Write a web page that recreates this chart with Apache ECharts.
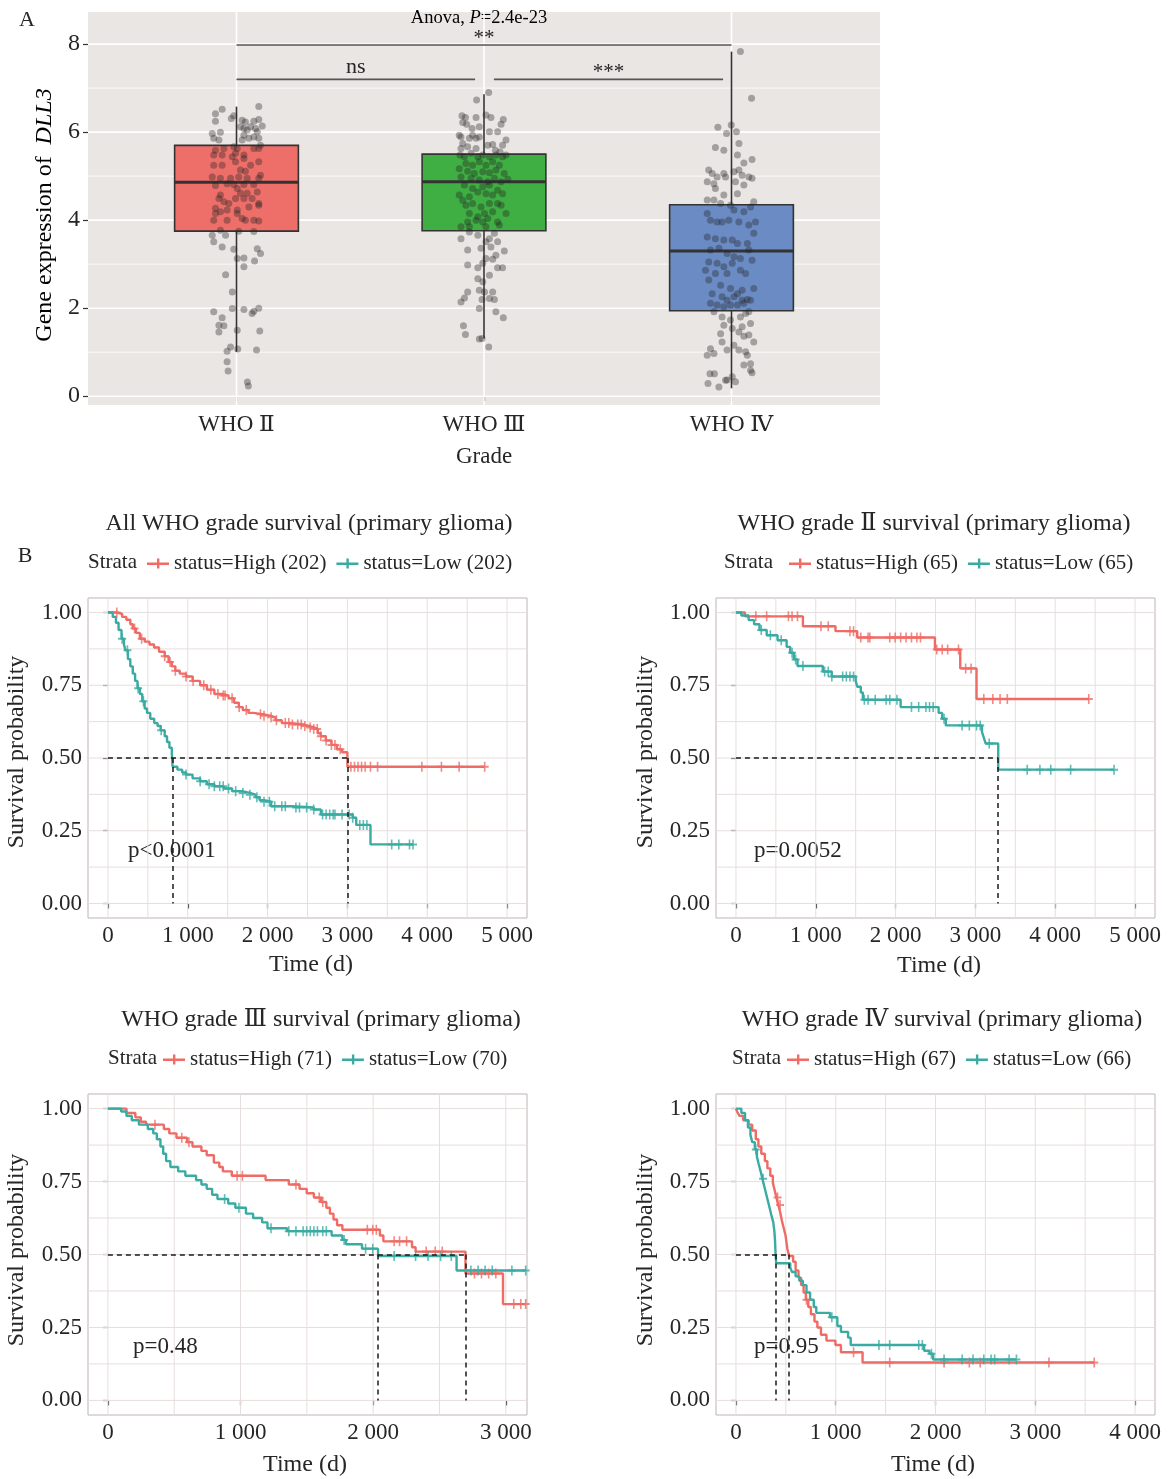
<!DOCTYPE html>
<html>
<head>
<meta charset="utf-8">
<script src="https://cdn.jsdelivr.net/npm/echarts@6/dist/echarts.min.js"></script>
<style>
html, body { margin: 0; padding: 0; background: #fff; }
#chart { width: 1168px; height: 1479px; }
</style>
</head>
<body>
<div id="chart"></div>
<script>
const FONT = "'Liberation Serif','DejaVu Serif','Noto Sans CJK SC',serif";
const TXT = '#262626';
const RED = '#EF6B65', TEAL = '#3AABA2';

// ---------- A: DLL3 expression by grade ----------
const grades = ['WHO Ⅱ', 'WHO Ⅲ', 'WHO Ⅳ'];
// [position, lower whisker, Q1, median, Q3, upper whisker]
const boxStats = [
  [1, 1.01, 3.75, 4.86, 5.70, 6.58],
  [2, 1.31, 3.76, 4.87, 5.50, 6.86],
  [3, 0.18, 1.94, 3.30, 4.35, 7.83]
];
const boxColors = ['#EE6F6A', '#3FAE43', '#6B8BC5'];
// jittered samples: [x offset, expression]
const ptsII = [[-0.058,6.52],[-0.085,6.42],[-0.085,6.25],[-0.011,6.37],[-0.021,6.31],[0.090,6.58],[0.023,6.27],[0.036,6.23],[0.070,6.25],[0.090,6.29],[0.104,6.14],[0.016,6.12],[0.030,6.08],[0.043,6.05],[0.057,6.12],[0.077,6.08],[0.084,6.01],[0.070,5.89],[0.090,5.86],[-0.098,5.97],[-0.065,6.00],[-0.092,5.86],[-0.071,5.82],[0.030,5.93],[0.050,5.86],[0.023,5.82],[0.097,5.70],[-0.011,5.67],[0.003,5.63],[-0.051,5.63],[-0.085,5.59],[-0.092,5.48],[-0.058,5.48],[-0.004,5.52],[0.030,5.48],[0.070,5.63],[0.090,5.63],[-0.017,5.44],[0.030,5.40],[-0.092,5.25],[-0.058,5.25],[-0.004,5.33],[0.036,5.11],[0.009,4.98],[0.016,5.14],[0.057,5.25],[0.090,5.33],[0.097,5.02],[-0.098,4.98],[-0.065,4.95],[-0.024,4.95],[0.043,4.95],[0.090,4.95],[-0.085,4.79],[-0.038,4.83],[-0.011,4.81],[0.030,4.81],[0.070,4.81],[0.003,4.72],[-0.065,4.57],[0.016,4.61],[0.043,4.61],[0.084,4.64],[-0.071,4.49],[-0.051,4.42],[-0.031,4.38],[-0.004,4.49],[0.030,4.49],[0.063,4.49],[0.090,4.38],[-0.085,4.27],[-0.038,4.23],[0.003,4.23],[0.050,4.30],[0.090,4.34],[-0.085,4.15],[-0.065,4.19],[0.003,4.15],[0.023,4.04],[0.036,4.00],[-0.092,4.00],[-0.038,4.00],[0.070,4.00],[0.090,3.98],[-0.065,3.77],[-0.098,3.66],[-0.044,3.66],[0.009,3.75],[0.070,3.74],[-0.092,3.51],[-0.058,3.39],[-0.011,3.34],[0.084,3.35],[0.097,3.24],[0.003,3.13],[0.030,3.14],[0.073,3.07],[0.030,2.94],[-0.044,2.76],[-0.017,2.37],[-0.092,1.92],[-0.017,1.99],[0.030,1.97],[0.063,1.88],[0.070,1.93],[0.090,2.00],[-0.058,1.78],[-0.071,1.61],[-0.051,1.60],[-0.071,1.46],[0.003,1.50],[0.094,1.48],[-0.024,1.12],[-0.038,1.02],[0.005,1.07],[0.081,1.05],[-0.038,0.78],[-0.034,0.57],[0.044,0.32],[0.048,0.23]];
const ptsIII = [[0.019,6.90],[-0.030,6.73],[-0.089,6.37],[-0.075,6.33],[-0.032,6.33],[-0.086,6.22],[0.008,6.39],[0.028,6.33],[0.078,6.29],[0.069,6.18],[-0.070,6.18],[-0.048,6.08],[-0.019,6.12],[-0.100,5.93],[-0.093,5.89],[-0.046,5.93],[-0.032,5.86],[-0.059,5.86],[-0.019,5.89],[0.022,6.01],[0.055,6.01],[0.089,5.82],[0.075,5.70],[0.035,5.72],[-0.086,5.74],[-0.066,5.67],[-0.093,5.63],[-0.032,5.63],[0.015,5.70],[0.046,5.59],[0.065,5.55],[0.089,5.48],[-0.097,5.48],[-0.079,5.44],[-0.052,5.52],[-0.025,5.44],[-0.005,5.48],[0.022,5.44],[0.048,5.48],[0.075,5.44],[-0.073,5.29],[-0.046,5.25],[-0.019,5.33],[0.008,5.25],[0.035,5.33],[0.062,5.25],[-0.100,5.17],[-0.066,5.11],[-0.039,5.06],[-0.005,5.10],[0.022,5.08],[0.048,5.14],[0.082,5.06],[-0.093,4.98],[-0.052,4.95],[-0.019,4.91],[0.015,4.87],[0.042,4.95],[0.069,4.87],[0.096,4.93],[-0.100,4.57],[-0.086,4.45],[-0.059,4.53],[-0.025,4.64],[0.008,4.60],[0.035,4.57],[0.055,4.68],[0.075,4.60],[-0.079,4.80],[-0.005,4.76],[0.022,4.80],[-0.046,4.72],[-0.073,4.34],[-0.046,4.38],[-0.012,4.30],[0.022,4.38],[0.055,4.38],[0.069,4.34],[-0.059,4.15],[-0.025,4.08],[0.002,4.15],[0.035,4.19],[0.089,4.15],[-0.066,3.96],[-0.032,4.00],[-0.005,3.96],[0.015,4.04],[0.055,3.96],[-0.093,3.85],[-0.059,3.85],[0.008,3.85],[0.062,3.89],[0.042,3.70],[-0.059,3.73],[-0.025,3.66],[0.022,3.58],[-0.093,3.58],[0.008,3.51],[0.055,3.51],[-0.012,3.36],[0.028,3.39],[-0.066,3.32],[0.082,3.30],[0.048,3.20],[0.008,3.13],[0.035,3.11],[-0.066,2.98],[-0.025,2.92],[-0.005,3.02],[0.055,2.92],[0.075,2.92],[0.022,2.75],[-0.025,2.67],[-0.005,2.60],[-0.066,2.37],[-0.019,2.41],[0.002,2.37],[0.035,2.37],[0.042,2.20],[-0.079,2.23],[-0.093,2.14],[-0.008,2.20],[0.022,2.22],[-0.019,1.99],[0.048,1.92],[0.078,1.78],[-0.083,1.60],[-0.075,1.40],[-0.019,1.30],[-0.008,1.31],[0.019,1.12]];
const ptsIV = [[0.036,7.83],[0.081,6.77],[-0.055,6.11],[-0.001,6.16],[-0.020,5.97],[0.020,6.01],[-0.065,5.65],[-0.031,5.59],[0.030,5.74],[0.024,5.48],[0.083,5.38],[0.050,5.30],[-0.092,5.14],[-0.078,5.06],[-0.058,4.98],[-0.031,5.06],[-0.024,4.98],[0.010,5.10],[0.030,5.14],[0.043,5.02],[0.070,4.98],[0.083,4.95],[-0.098,4.87],[-0.071,4.83],[0.016,4.87],[0.050,4.80],[-0.065,4.72],[-0.031,4.57],[0.024,4.60],[0.090,4.42],[-0.098,4.46],[-0.071,4.46],[-0.044,4.38],[-0.004,4.34],[0.010,4.23],[0.050,4.19],[0.077,4.30],[-0.098,4.15],[-0.085,4.00],[-0.058,3.96],[-0.038,3.96],[-0.011,4.00],[0.030,3.96],[0.070,3.89],[0.097,3.96],[-0.098,3.62],[-0.065,3.58],[-0.031,3.55],[0.003,3.55],[0.024,3.47],[0.064,3.47],[0.090,3.70],[-0.085,3.32],[-0.051,3.36],[-0.018,3.24],[0.010,3.17],[0.036,3.13],[0.070,3.32],[-0.092,3.05],[-0.058,3.02],[-0.031,2.94],[0.003,3.02],[0.036,2.86],[0.083,3.09],[-0.105,2.86],[-0.065,2.79],[-0.018,2.79],[0.057,2.79],[-0.092,2.64],[-0.044,2.52],[-0.004,2.45],[0.024,2.33],[0.043,2.41],[0.090,2.45],[-0.078,2.33],[-0.038,2.26],[-0.018,2.18],[0.010,2.26],[0.043,2.18],[0.064,2.20],[0.077,2.18],[-0.085,2.11],[-0.058,2.07],[-0.031,2.03],[-0.004,2.07],[0.024,2.07],[0.050,2.11],[0.070,1.92],[-0.071,1.92],[-0.038,1.80],[-0.004,1.73],[0.036,1.80],[0.057,1.88],[-0.031,1.61],[0.003,1.54],[0.043,1.58],[0.077,1.65],[-0.044,1.42],[0.030,1.46],[0.050,1.36],[0.070,1.39],[0.090,1.23],[-0.038,1.23],[0.010,1.16],[-0.085,1.08],[-0.071,0.97],[-0.098,0.93],[-0.018,1.05],[0.030,1.05],[0.057,1.01],[0.064,0.93],[0.077,0.74],[0.050,0.71],[0.077,0.59],[0.083,0.53],[-0.087,0.51],[-0.069,0.51],[-0.095,0.29],[-0.051,0.21],[-0.024,0.36],[0.003,0.44],[0.016,0.33],[-0.018,0.37]];
// comparison brackets: [from, to, height]
const sigBars = [[1, 3, 7.98], [1, 1.964, 7.2], [2.04, 2.966, 7.2]];
const sigLabels = ['**', 'ns', '***'];
const yTicksA = [0, 2, 4, 6, 8];
const yMinorA = [1, 3, 5, 7];

// ---------- B: Kaplan-Meier curves, [time (d), survival] ----------
const allHigh = [[0,1],[120,0.995],[178,0.985],[230,0.975],[280,0.96],[311,0.945],[350,0.93],[400,0.91],[460,0.9],[520,0.89],[578,0.88],[640,0.865],[711,0.85],[760,0.83],[800,0.815],[844,0.80],[900,0.79],[978,0.78],[1060,0.765],[1155,0.75],[1240,0.735],[1333,0.72],[1420,0.715],[1511,0.705],[1580,0.69],[1640,0.675],[1689,0.665],[1760,0.655],[1822,0.65],[1950,0.645],[2044,0.64],[2100,0.63],[2178,0.62],[2300,0.615],[2444,0.61],[2520,0.605],[2578,0.60],[2630,0.585],[2667,0.575],[2730,0.56],[2800,0.545],[2870,0.53],[2933,0.52],[3000,0.47]];
const allHighCens = [111,333,422,711,778,844,978,1067,1200,1289,1378,1444,1467,1555,1644,1733,1911,1955,2044,2111,2222,2266,2311,2378,2422,2466,2533,2578,2622,2667,2733,2800,2844,2911,3044,3089,3133,3178,3222,3289,3378,3933,4178,4400,4720];
const allLow = [[0,1],[60,0.985],[100,0.965],[133,0.94],[170,0.91],[200,0.89],[222,0.87],[250,0.84],[280,0.815],[311,0.79],[340,0.765],[370,0.74],[400,0.72],[430,0.695],[460,0.67],[489,0.655],[530,0.635],[580,0.62],[622,0.61],[660,0.595],[711,0.575],[740,0.555],[770,0.535],[800,0.515],[810,0.47],[870,0.46],[930,0.45],[978,0.443],[1060,0.43],[1155,0.42],[1240,0.41],[1333,0.403],[1450,0.395],[1555,0.386],[1680,0.38],[1778,0.374],[1850,0.365],[1900,0.355],[1955,0.35],[2044,0.334],[2300,0.33],[2578,0.323],[2667,0.306],[3067,0.295],[3111,0.27],[3289,0.203]];
const allLowCens = [178,244,378,444,667,978,1155,1267,1333,1400,1444,1511,1600,1689,1778,1866,1955,2022,2089,2178,2222,2355,2400,2489,2578,2689,2733,2778,2822,2844,2933,3022,3067,3155,3200,3244,3555,3644,3778,3822];
const allMedians = [808, 3000];

const g2High = [[0,1],[113,0.987],[839,0.953],[1247,0.936],[1519,0.914],[2493,0.873],[2810,0.808],[3014,0.703]];
const g2HighCens = [249,385,657,703,771,1065,1156,1428,1473,1564,1655,1677,1927,1995,2063,2131,2199,2267,2312,2516,2584,2652,2788,2878,2946,3105,3218,3309,3400,4420];
const g2Low = [[0,1],[68,0.99],[159,0.974],[227,0.96],[295,0.94],[385,0.922],[521,0.905],[635,0.882],[680,0.862],[725,0.839],[771,0.816],[1088,0.797],[1200,0.78],[1500,0.765],[1519,0.745],[1564,0.725],[1590,0.70],[2063,0.675],[2539,0.655],[2584,0.635],[2629,0.612],[3082,0.59],[3105,0.57],[3128,0.55],[3286,0.46]];
const g2LowCens = [317,431,567,703,748,839,1111,1156,1201,1337,1383,1428,1473,1609,1655,1745,1881,1927,2017,2199,2289,2380,2425,2471,2607,2833,2924,3014,3060,3173,3649,3808,3944,4193,4737];
const g2Medians = [3286];

const g3High = [[0,1],[140,0.985],[207,0.97],[248,0.955],[288,0.945],[422,0.93],[463,0.915],[517,0.90],[597,0.885],[638,0.87],[705,0.855],[745,0.84],[799,0.815],[840,0.80],[867,0.785],[934,0.77],[1189,0.755],[1364,0.74],[1445,0.725],[1499,0.71],[1553,0.695],[1607,0.68],[1647,0.66],[1674,0.64],[1701,0.62],[1728,0.60],[1768,0.585],[2051,0.565],[2077,0.545],[2293,0.525],[2320,0.51],[2696,0.435],[2979,0.33]];
const g3HighCens = [355,557,611,974,1014,1418,1593,1620,1956,1997,2024,2158,2199,2252,2400,2468,2521,2764,2817,2871,2925,3060,3113,3150];
const g3Low = [[0,1],[100,0.99],[140,0.975],[180,0.96],[234,0.945],[301,0.93],[342,0.915],[369,0.895],[396,0.87],[417,0.845],[439,0.82],[471,0.80],[530,0.785],[584,0.77],[665,0.755],[705,0.74],[745,0.725],[786,0.705],[826,0.69],[907,0.675],[961,0.66],[1041,0.64],[1095,0.625],[1163,0.61],[1203,0.59],[1351,0.58],[1687,0.565],[1768,0.55],[1795,0.535],[1916,0.52],[2037,0.495],[2629,0.445]];
const g3LowCens = [880,988,1230,1364,1418,1472,1499,1526,1553,1580,1620,1647,1781,1943,1997,2158,2320,2414,2508,2589,2737,2791,2844,2898,3046,3150];
const g3Medians = [2037, 2696];

const g4High = [[0,1],[18,0.985],[36,0.975],[73,0.96],[127,0.945],[163,0.925],[199,0.895],[225,0.87],[254,0.845],[290,0.82],[315,0.795],[344,0.77],[370,0.745],[388,0.72],[406,0.695],[424,0.67],[443,0.645],[461,0.615],[479,0.59],[497,0.565],[515,0.52],[533,0.495],[573,0.475],[598,0.445],[627,0.42],[653,0.395],[678,0.37],[700,0.345],[725,0.32],[751,0.295],[787,0.27],[816,0.25],[852,0.225],[907,0.205],[997,0.19],[1052,0.165],[1269,0.13]];
const g4HighCens = [417,442,707,1179,1541,2086,2339,2448,3137,3591];
const g4Low = [[0,1],[54,0.985],[91,0.96],[120,0.935],[145,0.91],[163,0.885],[189,0.86],[210,0.835],[228,0.81],[247,0.785],[265,0.76],[283,0.735],[301,0.71],[319,0.685],[337,0.66],[355,0.635],[374,0.61],[385,0.58],[392,0.545],[396,0.51],[403,0.47],[544,0.455],[562,0.44],[598,0.425],[635,0.41],[671,0.395],[707,0.37],[743,0.345],[780,0.32],[805,0.30],[943,0.285],[1016,0.255],[1052,0.235],[1124,0.215],[1150,0.19],[1886,0.17],[1940,0.16],[1977,0.14]];
const g4LowCens = [199,272,961,1433,1541,1832,1868,1959,2086,2267,2376,2484,2557,2593,2738,2811];
const g4Medians = [400, 533];

const survTicks = [0, 0.25, 0.5, 0.75, 1];
const survGrid = [0, 0.125, 0.25, 0.375, 0.5, 0.625, 0.75, 0.875, 1];

const kmPanels = [
  { grid: {left: 88, top: 598, width: 439, height: 320}, xMin: -250, xMax: 5250,
    xTicks: [0,1000,2000,3000,4000,5000], xGrid: [0,500,1000,1500,2000,2500,3000,3500,4000,4500,5000],
    high: allHigh, highCens: allHighCens, low: allLow, lowCens: allLowCens, medians: allMedians,
    highName: 'status=High (202)', lowName: 'status=Low (202)',
    title: 'All WHO grade survival (primary glioma)', titleX: 309, titleY: 524,
    strataX: 88, legendX: 147, legendY: 562, pText: 'p<0.0001', pX: 128, pY: 851,
    ylabX: 17, ylabY: 752, xlabX: 311, xlabY: 965 },
  { grid: {left: 716, top: 598, width: 439, height: 320}, xMin: -250, xMax: 5250,
    xTicks: [0,1000,2000,3000,4000,5000], xGrid: [0,500,1000,1500,2000,2500,3000,3500,4000,4500,5000],
    high: g2High, highCens: g2HighCens, low: g2Low, lowCens: g2LowCens, medians: g2Medians,
    highName: 'status=High (65)', lowName: 'status=Low (65)',
    title: 'WHO grade Ⅱ survival (primary glioma)', titleX: 934, titleY: 524,
    strataX: 724, legendX: 789, legendY: 562, pText: 'p=0.0052', pX: 754, pY: 851,
    ylabX: 646, ylabY: 752, xlabX: 939, xlabY: 966 },
  { grid: {left: 88, top: 1094, width: 439, height: 321}, xMin: -150, xMax: 3160,
    xTicks: [0,1000,2000,3000], xGrid: [0,500,1000,1500,2000,2500,3000],
    high: g3High, highCens: g3HighCens, low: g3Low, lowCens: g3LowCens, medians: g3Medians,
    highName: 'status=High (71)', lowName: 'status=Low (70)',
    title: 'WHO grade Ⅲ survival (primary glioma)', titleX: 321, titleY: 1020,
    strataX: 108, legendX: 163, legendY: 1058, pText: 'p=0.48', pX: 133, pY: 1347,
    ylabX: 17, ylabY: 1250, xlabX: 305, xlabY: 1465 },
  { grid: {left: 716, top: 1094, width: 439, height: 321}, xMin: -200, xMax: 4200,
    xTicks: [0,1000,2000,3000,4000], xGrid: [0,500,1000,1500,2000,2500,3000,3500,4000],
    high: g4High, highCens: g4HighCens, low: g4Low, lowCens: g4LowCens, medians: g4Medians,
    highName: 'status=High (67)', lowName: 'status=Low (66)',
    title: 'WHO grade Ⅳ survival (primary glioma)', titleX: 942, titleY: 1020,
    strataX: 732, legendX: 787, legendY: 1058, pText: 'p=0.95', pX: 754, pY: 1347,
    ylabX: 646, ylabY: 1250, xlabX: 933, xlabY: 1465 }
];

// survival value at time t (step function)
function survAt(curve, t) {
  let s = 1;
  for (const p of curve) { if (p[0] <= t) s = p[1]; }
  return s;
}
function thousands(v) { return v === 0 ? '0' : (v / 1000) + ' 000'; }

const PLUS = 'path://M0,4h10v2H0z M4,0h2v10H4z';
const LEGEND_ICON = 'path://M0,4h22v2.4H0z M10,0h2.4v10h-2.4z';

const chart = echarts.init(document.getElementById('chart'), null, {renderer: 'canvas'});

const grids = [], xAxes = [], yAxes = [], series = [], legends = [], graphics = [];

function txt(x, y, text, size, extra) {
  graphics.push({
    type: 'text', x: x, y: y, silent: true,
    style: Object.assign({ text: text, fontSize: size, fontFamily: FONT, fill: TXT,
      align: 'center', verticalAlign: 'middle', textAlign: 'center', textVerticalAlign: 'middle' }, extra || {})
  });
}

// ----- panel A -----
grids.push({ left: 88, top: 12, width: 792, height: 393, show: true, backgroundColor: '#EAE6E4', borderWidth: 0, containLabel: false, outerBoundsMode: 'none' });
xAxes.push({ type: 'value', gridIndex: 0, min: 0.4, max: 3.6,
  axisLine: {show: false}, splitLine: {show: false},
  axisTick: {show: true, length: 5, customValues: [1, 2, 3], lineStyle: {color: '#333', width: 1.2}},
  axisLabel: {customValues: [1, 2, 3], formatter: v => grades[Math.round(v) - 1], fontSize: 23, fontFamily: FONT, color: TXT, margin: 8} });
yAxes.push({ type: 'value', gridIndex: 0, min: -0.2, max: 8.73,
  axisLine: {show: false}, splitLine: {show: false},
  axisTick: {show: true, length: 5, customValues: yTicksA, lineStyle: {color: '#333', width: 1.2}},
  axisLabel: {customValues: yTicksA, fontSize: 24, fontFamily: FONT, color: TXT, margin: 8} });

// panel A grid lines
series.push({
  type: 'custom', xAxisIndex: 0, yAxisIndex: 0, silent: true, z: 1, animation: false,
  data: [1, 2, 3].map(v => [v, 0, 1]).concat(yTicksA.map(v => [v, 1, 1])).concat(yMinorA.map(v => [v, 1, 0])),
  encode: {x: 0, y: 1},
  renderItem(params, api) {
    const cs = params.coordSys;
    const v = api.value(0), o = api.value(1), major = api.value(2);
    const style = {stroke: '#FFFFFF', lineWidth: major ? 1.6 : 0.8};
    if (o === 0) {
      const px = api.coord([v, 0])[0];
      return {type: 'line', shape: {x1: px, y1: cs.y, x2: px, y2: cs.y + cs.height}, style};
    }
    const py = api.coord([1, v])[1];
    return {type: 'line', shape: {x1: cs.x, y1: py, x2: cs.x + cs.width, y2: py}, style};
  }
});

// boxes
series.push({
  type: 'custom', xAxisIndex: 0, yAxisIndex: 0, z: 2, animation: false,
  data: boxStats, encode: {x: 0, y: [1, 2, 3, 4, 5]},
  renderItem(params, api) {
    const x = api.value(0);
    const pLo = api.coord([x, api.value(1)]), pQ1 = api.coord([x, api.value(2)]);
    const pMed = api.coord([x, api.value(3)]), pQ3 = api.coord([x, api.value(4)]);
    const pHi = api.coord([x, api.value(5)]);
    const w = api.size([0.5, 0])[0];
    const ln = {stroke: '#333', lineWidth: 1.6};
    return {type: 'group', children: [
      {type: 'line', shape: {x1: pLo[0], y1: pLo[1], x2: pQ1[0], y2: pQ1[1]}, style: ln},
      {type: 'line', shape: {x1: pQ3[0], y1: pQ3[1], x2: pHi[0], y2: pHi[1]}, style: ln},
      {type: 'rect', shape: {x: pQ3[0] - w / 2, y: pQ3[1], width: w, height: pQ1[1] - pQ3[1]},
        style: {fill: boxColors[params.dataIndex], stroke: '#333', lineWidth: 1.6}},
      {type: 'line', shape: {x1: pMed[0] - w / 2, y1: pMed[1], x2: pMed[0] + w / 2, y2: pMed[1]},
        style: {stroke: '#333', lineWidth: 3}}
    ]};
  }
});

// jittered points
[ptsII, ptsIII, ptsIV].forEach((pts, gi) => {
  series.push({
    type: 'scatter', xAxisIndex: 0, yAxisIndex: 0, z: 3, animation: false, silent: true,
    symbolSize: 7, itemStyle: {color: 'rgba(35,35,35,0.45)'},
    data: pts.map(p => [gi + 1 + p[0], p[1]])
  });
});

// comparison brackets
series.push({
  type: 'custom', xAxisIndex: 0, yAxisIndex: 0, z: 4, animation: false, silent: true,
  data: sigBars, encode: {x: [0, 1], y: 2},
  renderItem(params, api) {
    const a = api.coord([api.value(0), api.value(2)]), b = api.coord([api.value(1), api.value(2)]);
    const label = sigLabels[params.dataIndex];
    const isNs = label === 'ns';
    return {type: 'group', children: [
      {type: 'line', shape: {x1: a[0], y1: a[1], x2: b[0], y2: b[1]}, style: {stroke: '#555', lineWidth: 1.6}},
      {type: 'text', x: (a[0] + b[0]) / 2, y: a[1] + (isNs ? -1 : 4),
        style: {text: label, fontSize: isNs ? 22 : 21, fontFamily: FONT, fill: TXT, align: 'center', verticalAlign: 'bottom'}}
    ]};
  }
});

graphics.push({type: 'text', x: 479, y: 18, silent: true, style: {
  text: '{a|Anova, }{b|P}{a|=2.4e-23}', align: 'center', verticalAlign: 'middle',
  rich: {a: {fontSize: 18.5, fontFamily: FONT, color: TXT}, b: {fontSize: 18.5, fontFamily: FONT, fontStyle: 'italic', color: TXT}}
}});
graphics.push({type: 'text', x: 45, y: 215, rotation: Math.PI / 2, silent: true, style: {
  text: '{a|Gene expression of  }{b|DLL3}', align: 'center', verticalAlign: 'middle',
  rich: {a: {fontSize: 24, fontFamily: FONT, color: TXT}, b: {fontSize: 24, fontFamily: FONT, fontStyle: 'italic', color: TXT}}
}});
txt(484, 457, 'Grade', 23);
txt(27, 20, 'A', 22);
txt(25, 556, 'B', 22);

// ----- panels B -----
kmPanels.forEach((pn, k) => {
  const gi = k + 1;
  grids.push(Object.assign({show: true, backgroundColor: '#FFFFFF', borderColor: '#BFB5B3', borderWidth: 1, containLabel: false, outerBoundsMode: 'none'}, pn.grid));
  xAxes.push({ type: 'value', gridIndex: gi, min: pn.xMin, max: pn.xMax,
    axisLine: {show: false}, splitLine: {show: false},
    axisTick: {show: true, length: 5, customValues: pn.xTicks, lineStyle: {color: '#333', width: 1.2}},
    axisLabel: {customValues: pn.xTicks, formatter: thousands, fontSize: 23, fontFamily: FONT, color: TXT, margin: 6} });
  yAxes.push({ type: 'value', gridIndex: gi, min: -0.05, max: 1.05,
    axisLine: {show: false}, splitLine: {show: false},
    axisTick: {show: true, length: 5, customValues: survTicks, lineStyle: {color: '#333', width: 1.2}},
    axisLabel: {customValues: survTicks, formatter: v => v.toFixed(2), fontSize: 23, fontFamily: FONT, color: TXT, margin: 6} });

  series.push({
    type: 'custom', xAxisIndex: gi, yAxisIndex: gi, silent: true, z: 1, animation: false,
    data: pn.xGrid.map(v => [v, 0]).concat(survGrid.map(v => [v, 1])),
    encode: {x: 0, y: 1},
    renderItem(params, api) {
      const cs = params.coordSys;
      const v = api.value(0), o = api.value(1);
      const style = {stroke: '#E6DEDC', lineWidth: 1};
      if (o === 0) {
        const px = api.coord([v, 0])[0];
        return {type: 'line', shape: {x1: px, y1: cs.y, x2: px, y2: cs.y + cs.height}, style};
      }
      const py = api.coord([0, v])[1];
      return {type: 'line', shape: {x1: cs.x, y1: py, x2: cs.x + cs.width, y2: py}, style};
    }
  });

  const curves = [
    {name: pn.highName, curve: pn.high, cens: pn.highCens, color: RED},
    {name: pn.lowName, curve: pn.low, cens: pn.lowCens, color: TEAL}
  ];
  curves.forEach(c => {
    const last = c.curve[c.curve.length - 1];
    const endT = Math.max(last[0], c.cens[c.cens.length - 1]);
    series.push({
      type: 'line', name: c.name, xAxisIndex: gi, yAxisIndex: gi, z: 3, animation: false,
      step: 'end', showSymbol: false, symbol: 'none',
      lineStyle: {color: c.color, width: 2.4}, itemStyle: {color: c.color},
      data: c.curve.concat([[endT, last[1]]])
    });
    series.push({
      type: 'scatter', name: 'censor ' + c.name, xAxisIndex: gi, yAxisIndex: gi, z: 4, animation: false, silent: true,
      symbol: PLUS, symbolSize: [8, 10], itemStyle: {color: c.color},
      data: c.cens.map(t => [t, survAt(c.curve, t)])
    });
  });

  // median survival guides
  const medMax = Math.max.apply(null, pn.medians);
  const medLines = [[{coord: [0, 0.5]}, {coord: [medMax, 0.5]}]].concat(pn.medians.map(m => [{coord: [m, 0.5]}, {coord: [m, 0]}]));
  series.push({
    type: 'line', name: 'median ' + k, xAxisIndex: gi, yAxisIndex: gi, z: 5, animation: false,
    data: [[0, 0.5]], showSymbol: false, symbol: 'none', lineStyle: {opacity: 0},
    markLine: {silent: true, symbol: 'none', animation: false, label: {show: false},
      lineStyle: {type: [5, 4], color: '#1A1A1A', width: 1.5}, data: medLines}
  });

  legends.push({
    left: pn.legendX, top: pn.legendY - 9, padding: 0, itemGap: 10, itemWidth: 22, itemHeight: 10,
    selectedMode: false, icon: LEGEND_ICON,
    textStyle: {fontSize: 21, fontFamily: FONT, color: TXT},
    data: [pn.highName, pn.lowName]
  });

  txt(pn.titleX, pn.titleY, pn.title, 24);
  txt(pn.strataX, pn.legendY, 'Strata', 21, {align: 'left', textAlign: 'left'});
  txt(pn.pX, pn.pY, pn.pText, 23, {align: 'left', textAlign: 'left'});
  txt(pn.xlabX, pn.xlabY, 'Time (d)', 24);
  graphics.push({type: 'text', x: pn.ylabX, y: pn.ylabY, rotation: Math.PI / 2, silent: true,
    style: {text: 'Survival probability', fontSize: 24, fontFamily: FONT, fill: TXT, align: 'center', verticalAlign: 'middle'}});
});

chart.setOption({
  animation: false,
  backgroundColor: '#FFFFFF',
  grid: grids,
  xAxis: xAxes,
  yAxis: yAxes,
  legend: legends,
  graphic: graphics,
  series: series
});
</script>
</body>
</html>
